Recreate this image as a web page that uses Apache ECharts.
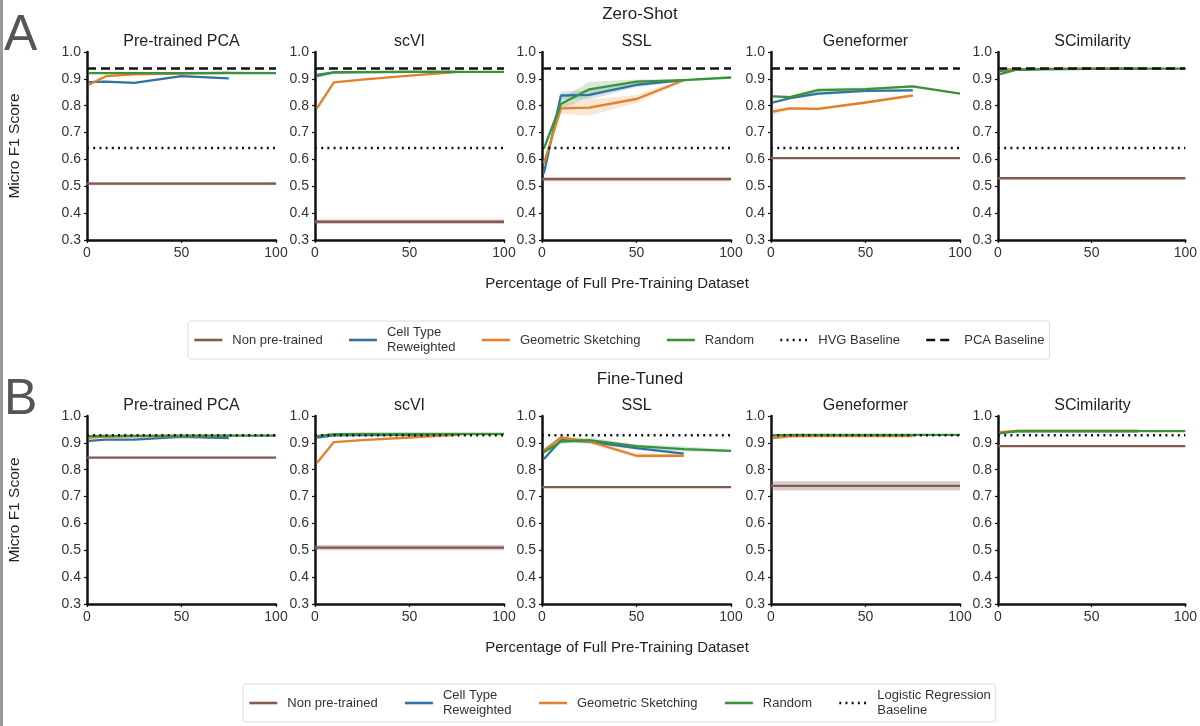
<!DOCTYPE html>
<html>
<head>
<meta charset="utf-8">
<script src="https://cdn.jsdelivr.net/npm/echarts@6/dist/echarts.min.js"></script>
<style>
  html, body { margin: 0; padding: 0; background: #fff; }
  #chart { width: 1200px; height: 726px; }
</style>
</head>
<body>
<div id="chart"></div>
<script>
// panels and x positions (% of pre-training data)
const models = ['Pre-trained PCA', 'scVI', 'SSL', 'Geneformer', 'SCimilarity'];
const pctRandom = [1, 10, 25, 50, 75, 100];
const pctSubset = [1, 10, 25, 50, 75];

// ---- zero-shot ----
const zsNonPre = [0.510, 0.368, 0.527, 0.605, 0.530];
const zsNonPreCI = [0.006, 0.008, 0.008, 0.003, 0.003];
const zsReweighted = [
  [0.888, 0.890, 0.885, 0.910, 0.902],
  [0.915, 0.924, 0.925, 0.926, 0.926],
  [0.548, 0.838, 0.840, 0.878, 0.895],
  [0.812, 0.828, 0.845, 0.855, 0.857],
  [0.930, 0.934, 0.936, 0.937, 0.937]
];
const zsReweightedCI = [
  [0.003, 0.003, 0.003, 0.003, 0.003],
  [0.003, 0.002, 0.002, 0.002, 0.002],
  [0.008, 0.015, 0.018, 0.008, 0.004],
  [0.005, 0.005, 0.006, 0.005, 0.004],
  [0.004, 0.002, 0.002, 0.002, 0.002]
];
const zsSketch = [
  [0.878, 0.910, 0.917, 0.920, 0.922],
  [0.790, 0.887, 0.897, 0.912, 0.925],
  [0.585, 0.790, 0.793, 0.825, 0.895],
  [0.778, 0.790, 0.788, 0.812, 0.838],
  [0.935, 0.936, 0.937, 0.938, 0.938]
];
const zsSketchCI = [
  [0.004, 0.003, 0.003, 0.003, 0.003],
  [0.005, 0.003, 0.003, 0.003, 0.003],
  [0.010, 0.020, 0.030, 0.015, 0.005],
  [0.012, 0.006, 0.006, 0.006, 0.005],
  [0.003, 0.002, 0.002, 0.002, 0.002]
];
const zsRandom = [
  [0.921, 0.921, 0.921, 0.921, 0.922, 0.921],
  [0.910, 0.924, 0.925, 0.926, 0.926, 0.926],
  [0.640, 0.806, 0.861, 0.890, 0.895, 0.905],
  [0.835, 0.832, 0.858, 0.862, 0.872, 0.845],
  [0.918, 0.934, 0.936, 0.937, 0.938, 0.938]
];
const zsRandomCI = [
  [0.003, 0.003, 0.003, 0.003, 0.003, 0.003],
  [0.004, 0.003, 0.003, 0.003, 0.003, 0.003],
  [0.010, 0.020, 0.028, 0.008, 0.004, 0.003],
  [0.005, 0.005, 0.009, 0.005, 0.004, 0.003],
  [0.004, 0.002, 0.002, 0.002, 0.002, 0.002]
];
const zsHVG = 0.643;
const zsPCA = 0.939;

// ---- fine-tuned ----
const ftNonPre = [0.845, 0.510, 0.735, 0.740, 0.888];
const ftNonPreCI = [0.003, 0.010, 0.003, 0.017, 0.003];
const ftReweighted = [
  [0.907, 0.912, 0.912, 0.922, 0.918],
  [0.920, 0.928, 0.929, 0.930, 0.930],
  [0.840, 0.910, 0.905, 0.880, 0.860],
  [0.928, 0.929, 0.929, 0.929, 0.929],
  [0.938, 0.943, 0.943, 0.943, 0.943]
];
const ftReweightedCI = [
  [0.003, 0.002, 0.002, 0.002, 0.002],
  [0.003, 0.002, 0.002, 0.002, 0.002],
  [0.006, 0.008, 0.008, 0.006, 0.005],
  [0.002, 0.002, 0.002, 0.002, 0.002],
  [0.002, 0.002, 0.002, 0.002, 0.002]
];
const ftSketch = [
  [0.920, 0.922, 0.924, 0.925, 0.926],
  [0.825, 0.903, 0.910, 0.920, 0.930],
  [0.872, 0.920, 0.905, 0.852, 0.852],
  [0.918, 0.924, 0.925, 0.925, 0.925],
  [0.940, 0.945, 0.945, 0.945, 0.945]
];
const ftSketchCI = [
  [0.003, 0.002, 0.002, 0.002, 0.002],
  [0.004, 0.002, 0.002, 0.002, 0.002],
  [0.006, 0.006, 0.008, 0.008, 0.006],
  [0.003, 0.002, 0.002, 0.002, 0.002],
  [0.003, 0.002, 0.002, 0.002, 0.002]
];
const ftRandom = [
  [0.925, 0.926, 0.926, 0.927, 0.927, 0.927],
  [0.925, 0.932, 0.933, 0.933, 0.933, 0.933],
  [0.865, 0.905, 0.910, 0.888, 0.877, 0.870],
  [0.928, 0.930, 0.930, 0.930, 0.930, 0.930],
  [0.935, 0.944, 0.944, 0.944, 0.944, 0.944]
];
const ftRandomCI = [
  [0.003, 0.002, 0.002, 0.002, 0.002, 0.002],
  [0.003, 0.002, 0.002, 0.002, 0.002, 0.002],
  [0.006, 0.008, 0.010, 0.006, 0.010, 0.004],
  [0.002, 0.002, 0.002, 0.002, 0.002, 0.002],
  [0.003, 0.002, 0.002, 0.002, 0.002, 0.002]
];
const ftLogReg = 0.928;

const C = {
  nonpre: '#845b53',
  reweight: '#3274a1',
  sketch: '#e1812c',
  random: '#3a923a'
};
const FONT = '"Liberation Sans", Arial, sans-serif';

const panelLeft = [87, 315, 542, 771, 998];
const panelW = 189;
const rowTop = [52, 416];
const panelH = 188;

const chart = echarts.init(document.getElementById('chart'));

const grids = [], xAxes = [], yAxes = [], series = [], graphics = [];

function band(g, xs, ys, ci, color, opacity) {
  const pts = xs.map((x, i) => [x, ys[i] - ci[i], ys[i] + ci[i]]);
  series.push({
    type: 'custom',
    xAxisIndex: g, yAxisIndex: g,
    silent: true,
    z: 1,
    encode: { x: 0, y: [1, 2] },
    data: pts,
    renderItem: function (params, api) {
      if (params.dataIndex !== 0) return null;
      const upper = pts.map(d => api.coord([d[0], d[2]]));
      const lower = pts.map(d => api.coord([d[0], d[1]])).reverse();
      return {
        type: 'polygon',
        shape: { points: upper.concat(lower) },
        style: { fill: color, opacity: opacity, stroke: null }
      };
    }
  });
}

function line(g, name, xs, ys, color, width, type, z) {
  series.push({
    type: 'line', name: name,
    xAxisIndex: g, yAxisIndex: g,
    data: xs.map((x, i) => [x, ys[i]]),
    symbol: 'none', showSymbol: false, silent: true,
    lineStyle: { color: color, width: width, type: type },
    itemStyle: { color: color },
    z: z
  });
}

const rows = [
  { nonpre: zsNonPre, nonpreCI: zsNonPreCI, rew: zsReweighted, rewCI: zsReweightedCI,
    sk: zsSketch, skCI: zsSketchCI, rnd: zsRandom, rndCI: zsRandomCI },
  { nonpre: ftNonPre, nonpreCI: ftNonPreCI, rew: ftReweighted, rewCI: ftReweightedCI,
    sk: ftSketch, skCI: ftSketchCI, rnd: ftRandom, rndCI: ftRandomCI }
];

rows.forEach((row, r) => {
  models.forEach((m, p) => {
    const g = r * 5 + p;
    grids.push({ left: panelLeft[p], top: rowTop[r], width: panelW, height: panelH });
    xAxes.push({
      gridIndex: g, type: 'value', min: 0, max: 100, interval: 50,
      axisLine: { onZero: false, lineStyle: { color: '#111', width: 2.5 } },
      axisTick: { show: true, length: 3, lineStyle: { color: '#111', width: 1.2 } },
      axisLabel: { fontFamily: FONT, fontSize: 14, color: '#333', margin: 6 },
      splitLine: { show: false }
    });
    yAxes.push({
      gridIndex: g, type: 'value', min: 0.3, max: 1.0, interval: 0.1,
      axisLine: { show: true, lineStyle: { color: '#111', width: 2.5 } },
      axisTick: { show: true, length: 3, lineStyle: { color: '#111', width: 1.2 } },
      axisLabel: { fontFamily: FONT, fontSize: 14, color: '#333', margin: 6,
                   formatter: v => v.toFixed(1) },
      splitLine: { show: false }
    });

    const flatX = [0, 100];
    const np = [row.nonpre[p], row.nonpre[p]];
    const npCI = [row.nonpreCI[p], row.nonpreCI[p]];
    band(g, flatX, np, npCI, C.nonpre, 0.3);
    band(g, pctSubset, row.rew[p], row.rewCI[p], C.reweight, 0.2);
    band(g, pctSubset, row.sk[p], row.skCI[p], C.sketch, 0.2);
    band(g, pctRandom, row.rnd[p], row.rndCI[p], C.random, 0.2);

    line(g, 'Non pre-trained', flatX, np, C.nonpre, 2.3, 'solid', 3);
    line(g, 'Cell Type Reweighted', pctSubset, row.rew[p], C.reweight, 2.3, 'solid', 4);
    line(g, 'Geometric Sketching', pctSubset, row.sk[p], C.sketch, 2.3, 'solid', 5);
    line(g, 'Random', pctRandom, row.rnd[p], C.random, 2.3, 'solid', 6);
    if (r === 0) {
      line(g, 'HVG Baseline', flatX, [zsHVG, zsHVG], '#111', 2.5, [2, 4.2], 7);
      line(g, 'PCA Baseline', flatX, [zsPCA, zsPCA], '#111', 2.5, [9, 5], 7);
    } else {
      line(g, 'Logistic Regression Baseline', flatX, [ftLogReg, ftLogReg], '#111', 2.5, [2, 4.2], 7);
    }

    graphics.push({
      type: 'text', x: panelLeft[p] + panelW / 2, y: rowTop[r] - 10,
      style: { text: m, font: '16px ' + FONT, fill: '#222', textAlign: 'center', textVerticalAlign: 'middle' }
    });
  });

  const cy = rowTop[r] + panelH / 2;
  graphics.push({
    type: 'text', x: 15, y: cy, rotation: Math.PI / 2,
    style: { text: 'Micro F1 Score', font: '15.5px ' + FONT, fill: '#222', textAlign: 'center', textVerticalAlign: 'middle' }
  });
  graphics.push({
    type: 'text', x: 617, y: rowTop[r] + panelH + 44,
    style: { text: 'Percentage of Full Pre-Training Dataset', font: '15px ' + FONT, fill: '#222', textAlign: 'center', textVerticalAlign: 'middle' }
  });
});

graphics.push(
  { type: 'text', x: 640, y: 14, style: { text: 'Zero-Shot', font: '17px ' + FONT, fill: '#222', textAlign: 'center', textVerticalAlign: 'middle' } },
  { type: 'text', x: 640, y: 379, style: { text: 'Fine-Tuned', font: '17px ' + FONT, fill: '#222', textAlign: 'center', textVerticalAlign: 'middle' } },
  { type: 'text', x: 4, y: 36, style: { text: 'A', font: '50px ' + FONT, fill: '#555', textAlign: 'left', textVerticalAlign: 'middle' } },
  { type: 'text', x: 4, y: 400, style: { text: 'B', font: '50px ' + FONT, fill: '#555', textAlign: 'left', textVerticalAlign: 'middle' } },
  { type: 'rect', shape: { x: 0, y: 0, width: 3, height: 726 }, style: { fill: '#9a9a9a' } }
);

const legendLabels = {
  'Cell Type Reweighted': 'Cell Type\nReweighted',
  'Logistic Regression Baseline': 'Logistic Regression\nBaseline'
};
const legendBase = {
  orient: 'horizontal',
  itemWidth: 28, itemHeight: 10, itemGap: 26,
  padding: [4, 5],
  borderColor: '#dcdcdc', borderWidth: 1, borderRadius: 3,
  backgroundColor: '#fff',
  selectedMode: false,
  itemStyle: { color: 'rgba(0,0,0,0)', borderWidth: 0, opacity: 0 },
  lineStyle: { width: 2.6 },
  textStyle: { fontFamily: FONT, fontSize: 13, color: '#333', lineHeight: 15, padding: [0, 0, 0, 5] },
  formatter: n => legendLabels[n] || n
};

const option = {
  animation: false,
  grid: grids,
  xAxis: xAxes,
  yAxis: yAxes,
  legend: [
    Object.assign({}, legendBase, {
      left: 188, top: 321, itemGap: 25,
      data: ['Non pre-trained', 'Cell Type Reweighted', 'Geometric Sketching', 'Random', 'HVG Baseline', 'PCA Baseline']
    }),
    Object.assign({}, legendBase, {
      left: 243, top: 684,
      data: ['Non pre-trained', 'Cell Type Reweighted', 'Geometric Sketching', 'Random', 'Logistic Regression Baseline']
    })
  ],
  graphic: graphics,
  series: series
};

chart.setOption(option);
</script>
</body>
</html>
